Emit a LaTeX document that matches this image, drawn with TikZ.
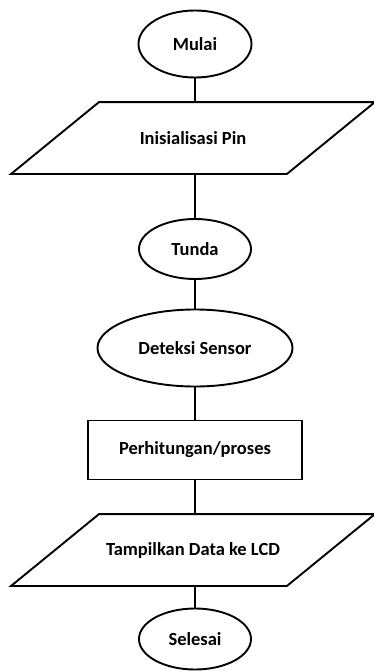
\documentclass[tikz,border=0pt]{standalone}
\usepackage{fontspec}
\setmainfont{Carlito}
\usetikzlibrary{shapes.geometric}

\begin{document}
\begin{tikzpicture}[x=1pt, y=-1pt, line width=1.9pt,
  txt/.style={font=\fontsize{18.5}{21}\selectfont\bfseries},
  term/.style={ellipse, draw, inner sep=0pt, txt},
  io/.style={rectangle, inner sep=0pt, minimum width=274, minimum height=70, txt},
  proc/.style={rectangle, draw, inner sep=0pt, minimum width=214, minimum height=59, txt}]
\useasboundingbox (0,0) rectangle (374,672);
% start / end and the steps, top to bottom
\node[term, minimum width=113, minimum height=67] (mulai) at (195,44) {Mulai};
\node[io] (init) at (193,138) {Inisialisasi Pin};
\node[term, minimum width=112, minimum height=60] (tunda) at (195,249) {Tunda};
\node[term, minimum width=195, minimum height=77] (deteksi) at (195,348) {Deteksi Sensor};
\node[proc] (hitung) at (195,450) {Perhitungan/proses};
\node[io] (tampil) at (193,550) {Tampilkan Data ke LCD};
\node[term, minimum width=112, minimum height=61] (selesai) at (195,639) {Selesai};
% parallelogram outlines for the two io boxes
\foreach \n in {init,tampil}
  \draw ([xshift=44pt]\n.north west) -- ([xshift=44pt]\n.north east)
    -- ([xshift=-44pt]\n.south east) -- ([xshift=-44pt]\n.south west) -- cycle;
% connecting lines
\draw (mulai) -- (mulai |- init.north);
\draw (mulai |- init.south) -- (tunda);
\draw (tunda) -- (deteksi);
\draw (deteksi) -- (hitung);
\draw (hitung) -- (hitung |- tampil.north);
\draw (hitung |- tampil.south) -- (selesai);
\end{tikzpicture}
\end{document}
